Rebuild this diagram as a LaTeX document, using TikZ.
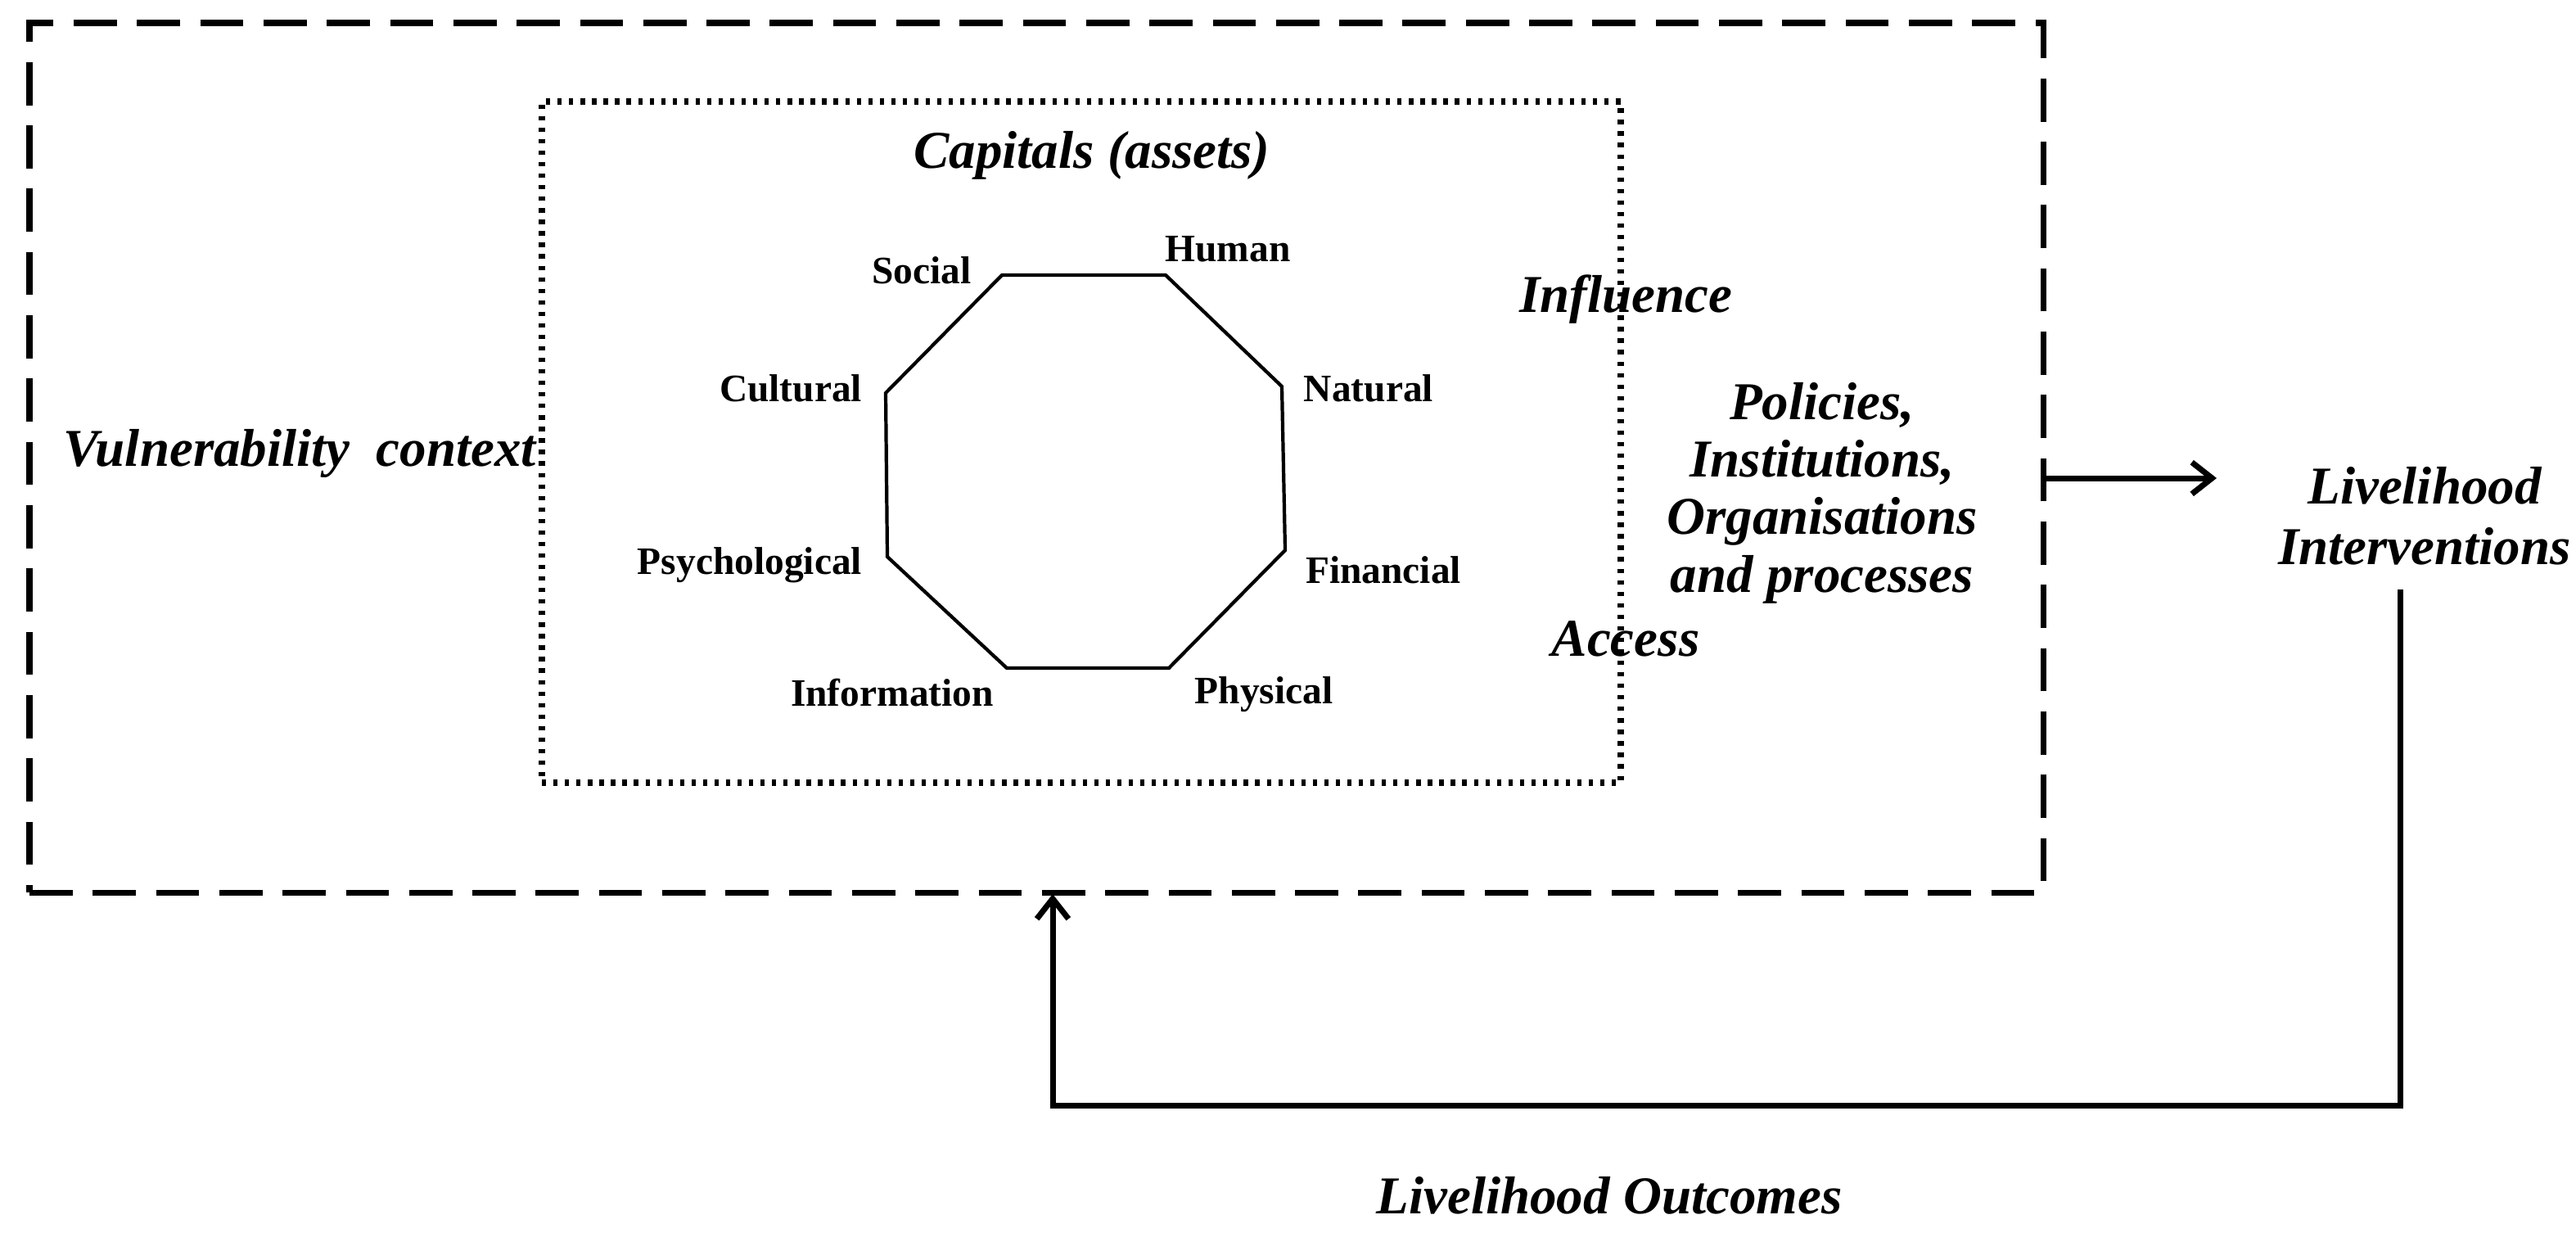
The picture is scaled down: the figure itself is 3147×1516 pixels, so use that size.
\documentclass[tikz,border=0pt]{standalone}
\usepackage{fontspec}
\setmainfont{Liberation Serif}
\usetikzlibrary{arrows.meta}
\begin{document}
\begin{tikzpicture}[x=0.02cm,y=-0.02cm,
  big/.style={font=\fontsize{37}{40}\selectfont\bfseries\itshape,align=center,inner sep=0},
  lab/.style={font=\fontsize{27}{30}\selectfont\bfseries,inner sep=0},
  line/.style={line width=2.4pt},
  arr/.style={line width=4pt,-{Straight Barb[length=14pt,width=22pt,line width=4pt]}}]
\useasboundingbox (0,0) rectangle (3147,1516);
\node[draw,dashed,line width=4pt,dash pattern=on 30pt off 14pt,minimum width=2460*0.02cm,minimum height=1062*0.02cm,inner sep=0] (outer) at (1266,559) {};
\node[draw,line width=4.5pt,dash pattern=on 3pt off 5pt,minimum width=1318*0.02cm,minimum height=832*0.02cm,inner sep=0] (inner) at (1321,540) {};
\coordinate (v1) at (1224,336);\coordinate (v2) at (1424,336);
\coordinate (v3) at (1566,472);\coordinate (v4) at (1570,672);
\coordinate (v5) at (1428,816);\coordinate (v6) at (1230,816);
\coordinate (v7) at (1084,680);\coordinate (v8) at (1082,480);
\draw[line] (v1)--(v2)--(v3)--(v4)--(v5)--(v6)--(v7)--(v8)--cycle;
\node[big] (cap) at (1334,190) {Capitals (assets)};
\node[lab] (soc) at (1126,330) {Social};
\node[lab] (hum) at (1500,304) {Human};
\node[lab] (cul) at (966,474) {Cultural};
\node[lab] (nat) at (1672,474) {Natural};
\node[lab] (psy) at (916,690) {Psychological};
\node[lab] (fin) at (1690,696) {Financial};
\node[lab] (inf) at (1090,846) {Information};
\node[lab] (phy) at (1544,848) {Physical};
\node[big] (infl) at (1986,366) {Influence};
\node[big,font=\fontsize{37}{40}\selectfont\bfseries\itshape] (pol) at (2226,602) {Policies,\\Institutions,\\Organisations\\and processes};
\node[big] (acc) at (1986,780) {Access};
\node[big] (vul) at (366,554) {Vulnerability\ \ context};
\node[big,font=\fontsize{37}{42}\selectfont\bfseries\itshape] (li) at (2962,630) {Livelihood\\Interventions};
\node[big] (lo) at (1966,1460) {Livelihood Outcomes};
\coordinate (a1) at (2500,584);
\coordinate (a2) at (2708,584);
\draw[arr] (a1)--(a2);
\coordinate (b1) at (2932,720);
\coordinate (b2) at (2932,1350);
\coordinate (b3) at (1286,1350);
\coordinate (b4) at (1286,1092);
\draw[arr] (b1)--(b2)--(b3)--(b4);
\end{tikzpicture}
\end{document}
